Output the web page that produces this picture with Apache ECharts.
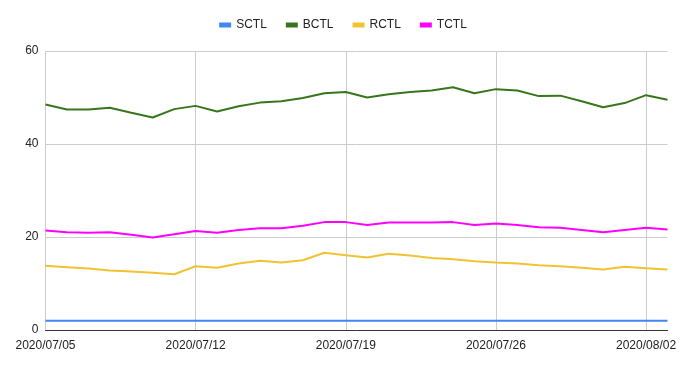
<!DOCTYPE html>
<html>
<head>
<meta charset="utf-8">
<script src="https://cdn.jsdelivr.net/npm/echarts@6/dist/echarts.min.js"></script>
<style>html,body{margin:0;padding:0;background:#fff}#c{width:686px;height:369px}</style>
</head>
<body>
<div id="c"></div>
<script>
const dates = ["2020/07/05","2020/07/06","2020/07/07","2020/07/08","2020/07/09","2020/07/10","2020/07/11",
"2020/07/12","2020/07/13","2020/07/14","2020/07/15","2020/07/16","2020/07/17","2020/07/18",
"2020/07/19","2020/07/20","2020/07/21","2020/07/22","2020/07/23","2020/07/24","2020/07/25",
"2020/07/26","2020/07/27","2020/07/28","2020/07/29","2020/07/30","2020/07/31","2020/08/01",
"2020/08/02","2020/08/03"];
const SCTL = [2,2,2,2,2,2,2,2,2,2,2,2,2,2,2,2,2,2,2,2,2,2,2,2,2,2,2,2,2,2];
const BCTL = [48.5,47.4,47.4,47.8,46.7,45.7,47.5,48.2,47.0,48.1,48.9,49.2,49.9,50.9,51.2,50.0,50.7,51.2,51.5,52.2,50.9,51.8,51.5,50.3,50.4,49.2,47.9,48.8,50.5,49.5];
const RCTL = [13.8,13.5,13.2,12.8,12.6,12.3,12.0,13.7,13.4,14.3,14.9,14.5,15.0,16.6,16.1,15.6,16.4,16.0,15.5,15.2,14.8,14.5,14.3,13.9,13.7,13.4,13.0,13.6,13.3,13.0];
const TCTL = [21.4,21.0,20.9,21.0,20.5,19.9,20.6,21.3,20.9,21.5,21.9,21.9,22.4,23.2,23.2,22.6,23.1,23.1,23.1,23.2,22.6,22.9,22.6,22.1,22.0,21.5,21.0,21.5,22.0,21.6];
const yTicks = [0,20,40,60];

const chart = echarts.init(document.getElementById('c'));
const font = 'Arial, "Liberation Sans", sans-serif';
const mk = (name, data, color) => ({
  name, type: 'line', data, symbol: 'none', smooth: false,
  lineStyle: {width: 2, color}, itemStyle: {color}
});
chart.setOption({
  animation: false,
  legend: {
    top: 14, left: 'center', itemWidth: 12, itemHeight: 5, itemGap: 19,
    icon: 'rect',
    textStyle: {fontFamily: font, fontSize: 12, color: '#222'},
    data: ['SCTL','BCTL','RCTL','TCTL']
  },
  grid: {left: 45.5, right: 18.5, top: 51, bottom: 39, containLabel: false},
  xAxis: {
    type: 'category', data: dates, boundaryGap: false,
    axisLine: {lineStyle: {color: '#333', width: 1}},
    axisTick: {show: false},
    axisLabel: {interval: 6, color: '#222', fontFamily: font, fontSize: 12, margin: 10},
    splitLine: {show: true, interval: 6, lineStyle: {color: '#ccc', width: 1}}
  },
  yAxis: {
    type: 'value', min: yTicks[0], max: yTicks[yTicks.length-1], interval: 20,
    axisLine: {show: false}, axisTick: {show: false},
    axisLabel: {color: '#222', fontFamily: font, fontSize: 12, margin: 7},
    splitLine: {lineStyle: {color: '#ccc', width: 1}}
  },
  series: [
    mk('SCTL', SCTL, '#4285F4'),
    mk('BCTL', BCTL, '#38761D'),
    mk('RCTL', RCTL, '#F1C232'),
    mk('TCTL', TCTL, '#FF00FF')
  ]
});
</script>
</body>
</html>
